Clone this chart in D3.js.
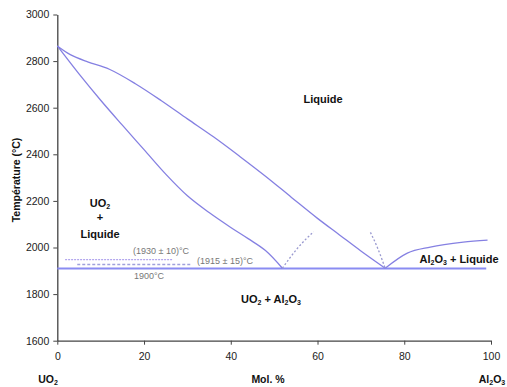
<!DOCTYPE html>
<html><head><meta charset="utf-8">
<script src="https://cdn.jsdelivr.net/npm/d3@7/dist/d3.min.js"></script>
<style>body{margin:0;background:#fff}svg{display:block;font-family:"Liberation Sans",Arial,sans-serif}</style>
</head><body>
<svg id="c" width="507" height="387"></svg>
<script>
// Data
const xTicks = [0, 20, 40, 60, 80, 100];
const yTicks = [1600, 1800, 2000, 2200, 2400, 2600, 2800, 3000];
// liquidus from UO2 melting point to right eutectic
const upperCurve = [[0,2865],[3,2828],[7,2797],[12,2765],[18,2703],[24,2630],[30,2552],[36,2475],[42,2392],[48,2306],[54,2215],[60,2125],[65,2055],[70,1985],[75.6,1911]];
// liquidus from UO2 melting point to left eutectic
const lowerCurve = [[0,2865],[5,2745],[10,2632],[15,2525],[20,2420],[25,2315],[30,2222],[35,2150],[40,2086],[44,2038],[48,1987],[51.9,1911]];
// Al2O3-side liquidus
const rightCurve = [[75.6,1911],[80.7,1976],[86,2002],[93.6,2023],[99.2,2032]];
// dotted extrapolations near eutectics
const leftDotted = [[51.9,1911],[55.3,1995],[59.1,2068]];
const rightDotted = [[72.2,2065],[73.8,2000],[75.6,1911]];
// horizontal eutectic lines
const eutecticSolid = {x0:0, x1:98.9, t:1910};
const dotted1930 = {x0:1.8, x1:26.5, t:1948};
const dotted1915 = {x0:4.6, x1:31.1, t:1927};

const W = 507, H = 387;
const m = {l:57.3, r:491, t:14.5, b:340.7};
const x = d3.scaleLinear().domain([0,100]).range([m.l, m.r]);
const y = d3.scaleLinear().domain([1600,3000]).range([m.b, m.t]);
const svg = d3.select("#c");

const curveCol = "#8580e2";
const line = d3.line().x(d=>x(d[0])).y(d=>y(d[1])).curve(d3.curveMonotoneX);
const lineS = d3.line().x(d=>x(d[0])).y(d=>y(d[1])).curve(d3.curveCatmullRom.alpha(0.5));

// axes
const xa = svg.append("g").attr("transform",`translate(0,${m.b})`)
  .call(d3.axisBottom(x).tickValues(xTicks).tickFormat(d3.format("d")).tickSize(4).tickPadding(8).tickSizeOuter(0));
const ya = svg.append("g").attr("transform",`translate(${m.l},0)`)
  .call(d3.axisLeft(y).tickValues(yTicks).tickFormat(d3.format("d")).tickSize(4).tickPadding(4).tickSizeOuter(0));
[xa,ya].forEach(g=>{
  g.select(".domain").attr("stroke","#444").attr("stroke-width",1.3);
  g.selectAll(".tick line").attr("stroke","#444");
  g.selectAll("text").attr("font-size","10.5px").attr("fill","#222");
});

// horizontal lines
svg.append("line").attr("x1",x(eutecticSolid.x0)).attr("x2",x(eutecticSolid.x1))
  .attr("y1",y(eutecticSolid.t)).attr("y2",y(eutecticSolid.t))
  .attr("stroke","#8a8cf2").attr("stroke-width",2);
svg.append("line").attr("x1",x(dotted1930.x0)).attr("x2",x(dotted1930.x1)).attr("y1",y(dotted1930.t)).attr("y2",y(dotted1930.t))
  .attr("stroke","#b2a6ee").attr("stroke-width",1.3).attr("stroke-dasharray","2,1");
svg.append("line").attr("x1",x(dotted1915.x0)).attr("x2",x(dotted1915.x1)).attr("y1",y(dotted1915.t)).attr("y2",y(dotted1915.t))
  .attr("stroke","#a0a0dc").attr("stroke-width",1.3).attr("stroke-dasharray","3,2");

// curves
[upperCurve, lowerCurve].forEach(c=>{
  svg.append("path").attr("d",lineS(c)).attr("fill","none").attr("stroke",curveCol).attr("stroke-width",1.3);
});
svg.append("path").attr("d",line(rightCurve)).attr("fill","none").attr("stroke",curveCol).attr("stroke-width",1.3);
[leftDotted, rightDotted].forEach(c=>{
  svg.append("path").attr("d",line(c)).attr("fill","none").attr("stroke","#9a9ad0").attr("stroke-width",1.3).attr("stroke-dasharray","2,2");
});

// labels
function lab(txt, px, py, opt={}){
  const t = svg.append("text").attr("x",px).attr("y",py).attr("text-anchor",opt.anchor||"middle")
    .attr("dominant-baseline","middle")
    .attr("font-size",opt.size||"11px").attr("font-weight",opt.weight||"bold").attr("fill",opt.fill||"#111");
  if (opt.rotate) t.attr("transform",`rotate(${opt.rotate},${px},${py})`);
  txt.forEach(p=>{
    const s = t.append("tspan").text(p[0]);
    if (p[1]) s.attr("font-size","7px").attr("dy","3");
    if (p[2]) s.attr("dy","-3");
  });
  return t;
}
lab([["Liquide"]], 323, 100);
lab([["UO"],["2",1],["",0,1]], 100, 204);
lab([["+"]], 100, 218);
lab([["Liquide"]], 100, 235);
lab([["UO"],["2",1],[" + Al",0,1],["2",1],["O",0,1],["3",1]], 271, 300);
lab([["Al"],["2",1],["O",0,1],["3",1],[" + Liquide",0,1]], 459, 260);
lab([["Mol. %"]], 268, 380, {size:"10.5px"});
lab([["UO"],["2",1]], 48, 380, {size:"10.5px"});
lab([["Al"],["2",1],["O",0,1],["3",1]], 492, 380, {size:"10.5px"});
lab([["Température  (°C)"]], 17, 180, {size:"10.5px", rotate:-90});
lab([["(1930 ± 10)°C"]], 161, 252, {size:"9px", weight:"normal", fill:"#777"});
lab([["(1915 ± 15)°C"]], 197, 262, {size:"9px", weight:"normal", fill:"#777", anchor:"start"});
lab([["1900°C"]], 149, 277, {size:"9px", weight:"normal", fill:"#777"});
</script>
</body></html>
